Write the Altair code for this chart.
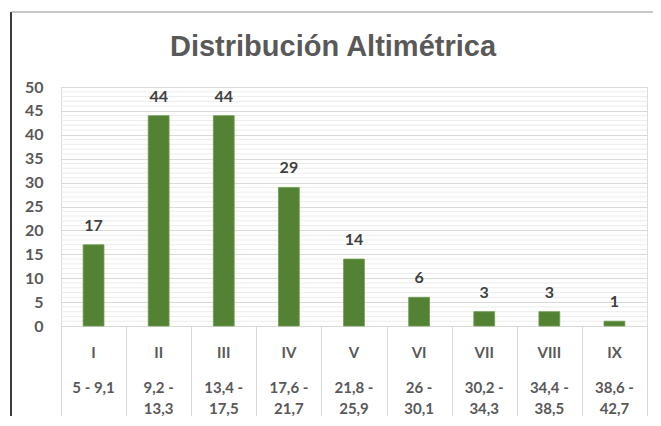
import altair as alt
import pandas as pd

roman = ["I", "II", "III", "IV", "V", "VI", "VII", "VIII", "IX"]
ranges = ["5 - 9,1", "9,2 -|13,3", "13,4 -|17,5", "17,6 -|21,7", "21,8 -|25,9",
          "26 -|30,1", "30,2 -|34,3", "34,4 -|38,5", "38,6 -|42,7"]
values = [17, 44, 44, 29, 14, 6, 3, 3, 1]
major_ticks = list(range(0, 51, 5))
minor_ticks = [v for v in range(0, 51) if v % 5 != 0]

df = pd.DataFrame({"clase": roman, "rango": ranges, "n": values})
minor_df = pd.DataFrame({"v": minor_ticks})

W, H = 586, 239
FONT = "Lato"
GRAY = "#595959"

xscale = alt.Scale(domain=roman, paddingInner=0, paddingOuter=0)
x_axis = alt.Axis(title=None, labels=False, tickBand="extent", tickSize=95,
                  tickColor="#d9d9d9", domainColor="#d9d9d9", grid=False)
yscale = alt.Scale(domain=[0, 50], nice=False)
y_axis = alt.Axis(title=None, values=major_ticks, grid=True, gridColor="#d9d9d9",
                  ticks=False, domain=False, labelFont=FONT, labelFontSize=16,
                  labelFontWeight="bold", labelColor=GRAY, labelPadding=18)

base = alt.Chart(df)

minor = alt.Chart(minor_df).mark_rule(color="#ececec", strokeWidth=1).encode(
    y=alt.Y("v:Q", scale=yscale, axis=y_axis)
)

bars = base.mark_bar(color="#548235", stroke="#6f9c4f", strokeWidth=0.8,
                     width=alt.RelativeBandSize(0.32)).encode(
    x=alt.X("clase:N", sort=roman, scale=xscale, axis=x_axis),
    y=alt.Y("n:Q", scale=yscale, axis=y_axis),
)

bar_labels = base.mark_text(font=FONT, fontSize=16, fontWeight="bold", color="#404040",
                            baseline="middle", dy=-19).encode(
    x=alt.X("clase:N", sort=roman, scale=xscale, axis=x_axis),
    y=alt.Y("n:Q", scale=yscale, axis=y_axis),
    text="n:Q",
)

roman_labels = base.mark_text(font=FONT, fontSize=15, fontWeight="bold", color=GRAY,
                              baseline="middle").encode(
    x=alt.X("clase:N", sort=roman, scale=xscale, axis=x_axis),
    y=alt.value(266),
    text="clase:N",
)

range_labels = base.mark_text(font=FONT, fontSize=15, fontWeight="bold", color=GRAY,
                              baseline="middle", lineBreak="|", lineHeight=21).encode(
    x=alt.X("clase:N", sort=roman, scale=xscale, axis=x_axis),
    y=alt.value(301),
    text="rango:N",
)

title = alt.Chart(pd.DataFrame({"t": ["Distribución Altimétrica"]})).mark_text(
    font="Liberation Sans", fontSize=29, fontWeight="bold", color=GRAY, baseline="middle"
).encode(x=alt.value(272), y=alt.value(-40), text="t:N")

left_border = alt.Chart(pd.DataFrame({"a": [0]})).mark_rule(color="#3a3a3a", strokeWidth=2).encode(
    x=alt.value(-50), y=alt.value(-75), y2=alt.value(345)
)
top_border = alt.Chart(pd.DataFrame({"a": [0]})).mark_rule(color="#8c8c8c", strokeWidth=1).encode(
    x=alt.value(-50), x2=alt.value(610), y=alt.value(-75)
)

chart = alt.layer(minor, bars, bar_labels, roman_labels, range_labels, title,
                  left_border, top_border).properties(
    width=W, height=H,
    autosize=alt.AutoSizeParams(type="none"),
    padding={"left": 53, "top": 79, "right": 6, "bottom": 90},
).configure_view(stroke=None).configure(background="white")

chart.save("out.html", embed_options={"renderer": "svg", "actions": False})
